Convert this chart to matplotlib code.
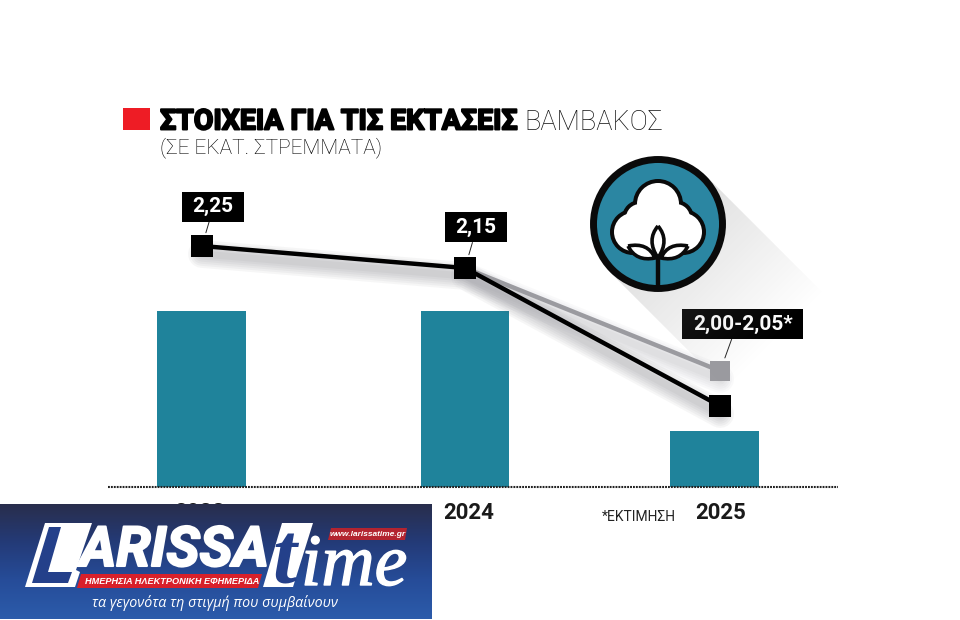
import numpy as np
import matplotlib
matplotlib.use('Agg')
import matplotlib.pyplot as plt
import matplotlib.patheffects as pe
from matplotlib.patches import Polygon, Circle, Rectangle, PathPatch
from matplotlib.path import Path
from matplotlib.transforms import ScaledTranslation

# values
anni = ['2023', '2024', '2025']
altezza_barre = [176, 176, 56]
linea_nera = [241, 219, 81]
linea_grigia = [219, 116]
etichette = ['2,25', '2,15', '2,00-2,05*']

x_barre = [0, 1, 1.95]
x_linea = [0, 1, 1.97]
x_anni = [-0.01, 1.015, 1.97]

TEAL = '#1f839b'
GRIGIO = '#9b9ba0'
NERO = '#0a0a0a'
BLU = '#24408a'

W, H = 960, 620
fig = plt.figure(figsize=(W / 100, H / 100), dpi=100, facecolor='white')


def scatola(x0, y0, w, h, mutation_size):
    # black label box, pads in pixels
    px, py = 10.5, 5.5
    return Path([(x0 - px, y0 - py), (x0 + w + px, y0 - py), (x0 + w + px, y0 + h + py),
                 (x0 - px, y0 + h + py), (x0 - px, y0 - py)], closed=True)


# main chart, baseline sits at y=487 px
ax = fig.add_axes([108 / W, 1 - 487 / H, 730 / W, 387 / H], zorder=2)
ax.set_xlim(-0.357, 2.418)
ax.set_ylim(0, 387)
ax.patch.set_alpha(0)
for lato in ['top', 'left', 'right']:
    ax.spines[lato].set_visible(False)
ax.spines['bottom'].set_linestyle((0, (0.9, 0.5)))
ax.spines['bottom'].set_linewidth(1.5)
ax.spines['bottom'].set_color('#222222')
ax.spines['bottom'].set_capstyle('butt')
ax.set_yticks([])
ax.set_xticks(x_anni, anni, fontfamily='Roboto', fontweight='bold', fontsize=16, color='#1a1a1a')
ax.tick_params(axis='x', length=0, pad=11)

ax.bar(x_barre, altezza_barre, width=0.338, color=TEAL, zorder=2)

# soft shadow under the lines
giu = ax.transData + ScaledTranslation(0, -8 / 100, fig.dpi_scale_trans)
for lw in range(20, 2, -3):
    ax.plot(x_linea, linea_nera, color='#555560', lw=lw, alpha=0.05, transform=giu,
            solid_capstyle='round', zorder=3)
    ax.plot(x_linea[1:], linea_grigia, color='#555560', lw=lw, alpha=0.03, transform=giu,
            solid_capstyle='round', zorder=3)

ax.plot(x_linea[1:], linea_grigia, color=GRIGIO, lw=3.2, marker='s', ms=15, mew=0, zorder=4)
ax.plot(x_linea, linea_nera, color='black', lw=3.2, marker='s', ms=15.5, mew=0, zorder=5)

# value boxes, offsets in points from the marker
punti = [(x_linea[0], linea_nera[0]), (x_linea[1], linea_nera[1]), (x_linea[2], linea_grigia[1])]
offset = [(7.9, 28.4), (8.0, 29.2), (16.2, 33.8)]
relpos = [(0.45, 0), (0.45, 0), (0.41, 0)]
for txt, xy, off, rp in zip(etichette, punti, offset, relpos):
    ax.annotate(txt, xy=xy, xytext=off, textcoords='offset points', ha='center', va='center',
                color='white', fontfamily='Roboto', fontweight='bold', fontsize=15,
                bbox=dict(boxstyle=scatola, fc='black', ec='none'),
                arrowprops=dict(arrowstyle='-', color='#222222', lw=0.7, relpos=rp,
                                shrinkA=0, shrinkB=10),
                zorder=6)

# everything else is drawn in picture pixels
deco = fig.add_axes([0, 0, 1, 1], zorder=3)
deco.set_xlim(0, W)
deco.set_ylim(H, 0)
deco.axis('off')
deco.patch.set_alpha(0)

# title
deco.add_patch(Rectangle((123, 108), 27, 22, fc='#ee1c25', ec='none'))
deco.text(160, 122, 'ΣΤΟΙΧΕΙΑ ΓΙΑ ΤΙΣ ΕΚΤΑΣΕΙΣ', fontfamily='Roboto', fontweight='bold', fontsize=20.5,
          va='center', color='black', path_effects=[pe.withStroke(linewidth=1.4, foreground='black')])
deco.text(524, 122, 'ΒΑΜΒΑΚΟΣ', fontfamily='Roboto', fontweight='light', fontsize=19.5, va='center', color='#111111')
deco.text(160, 148, '(ΣΕ ΕΚΑΤ. ΣΤΡΕΜΜΑΤΑ)', fontfamily='Roboto', fontweight='light', fontsize=15, va='center', color='black')
deco.text(602, 517, '*ΕΚΤΙΜΗΣΗ', fontfamily='Roboto', fontsize=10, va='center', color='#222222')

# long shadow of the icon
cx, cy, r = 658, 224, 68
ys, xs = np.mgrid[150:400, 590:850]
dist = ((xs - cx) + (ys - cy)) / np.sqrt(2)
sfuma = np.zeros(xs.shape + (4,))
sfuma[..., :3] = 0.55
sfuma[..., 3] = np.clip(0.28 * (1 - dist / 165), 0, 0.28)
ombra = deco.imshow(sfuma, extent=(590, 850, 400, 150), aspect='auto', zorder=0)
d = r / np.sqrt(2)
poli = Polygon([(cx + d, cy - d), (cx + d + 170, cy - d + 170), (cx - d + 170, cy + d + 170), (cx - d, cy + d)],
               transform=deco.transData, fc='none', ec='none')
deco.add_patch(poli)
ombra.set_clip_path(poli)

# cotton icon
deco.add_patch(Circle((cx, cy), r - 3.5, fc='#2b86a2', ec=NERO, lw=5, zorder=2))
bolle = [(658, 204, 21), (633, 232, 19), (683, 232, 19), (640, 218, 14), (676, 218, 14), (658, 232, 22)]
for bx, by, br in bolle:
    deco.add_patch(Circle((bx, by), br + 4, fc=NERO, ec='none', zorder=3))
for bx, by, br in bolle:
    deco.add_patch(Circle((bx, by), br, fc='white', ec='none', zorder=4))
deco.plot([658, 658], [255, 288], color=NERO, lw=3.2, solid_capstyle='butt', zorder=5)

curve = [Path.MOVETO, Path.CURVE3, Path.CURVE3, Path.CURVE3, Path.CURVE3]
petali = [[(658, 226), (670, 240), (658, 258), (646, 240), (658, 226)],
          [(628, 246), (648, 242), (655, 258), (636, 262), (628, 246)],
          [(688, 246), (668, 242), (661, 258), (680, 262), (688, 246)]]
for p in petali:
    deco.add_patch(PathPatch(Path(p, curve), fc='white', ec=NERO, lw=2.6, zorder=6))

# newspaper banner
grad = np.array([[0.16, 0.18, 0.30], [0.14, 0.23, 0.47], [0.15, 0.30, 0.60], [0.17, 0.36, 0.67]])
grad = np.stack([np.interp(np.linspace(0, 3, 115), range(4), grad[:, i]) for i in range(3)], axis=1)[:, None, :]
deco.imshow(grad, extent=(0, 432, 619, 504), aspect='auto', zorder=7)

deco.add_patch(Polygon([(45, 523), (92, 523), (76, 570), (80, 572), (75, 587), (25, 587)],
                       fc='white', ec='none', zorder=8))
deco.add_patch(Polygon([(49, 527), (61, 527), (48, 572), (72, 572), (68, 583), (32, 583)],
                       fc=BLU, ec='none', zorder=9))

deco.text(80, 566, 'ARISSA', fontfamily='Roboto', fontweight='bold', fontstyle='italic', fontsize=40,
          color='white', va='baseline', zorder=9, path_effects=[pe.withStroke(linewidth=1.5, foreground='white')])
deco.add_patch(Polygon([(81, 574), (262, 574), (258, 588), (77, 588)], fc='#d8202a', ec='none', zorder=9))
deco.text(85, 581, 'ΗΜΕΡΗΣΙΑ ΗΛΕΚΤΡΟΝΙΚΗ ΕΦΗΜΕΡΙΔΑ', fontfamily='Liberation Sans', fontweight='bold',
          fontstyle='italic', fontsize=6.6, color='white', va='center', zorder=10)
deco.add_patch(Polygon([(282, 523), (313, 523), (293, 587), (263, 587)], fc='white', ec='none', zorder=8))
deco.text(272, 584, 't', fontfamily='Liberation Serif', fontweight='bold', fontstyle='italic', fontsize=62,
          color=BLU, va='baseline', zorder=9)
deco.text(301, 585, 'ime', fontfamily='Liberation Serif', fontstyle='italic', fontsize=53, color='white',
          va='baseline', zorder=9, path_effects=[pe.withStroke(linewidth=1, foreground='white')])
deco.add_patch(Polygon([(331, 528), (407, 528), (405, 540), (328, 540)], fc='#b32430', ec='none', zorder=10))
deco.text(368, 534.5, 'www.larissatime.gr', fontfamily='Liberation Sans', fontweight='bold', fontstyle='italic',
          fontsize=6, color='white', ha='center', va='center', zorder=11)
deco.text(215, 603, 'τα γεγονότα τη στιγμή που συμβαίνουν', fontfamily='Open Sans', fontstyle='italic',
          fontsize=10.3, color='white', ha='center', va='center', zorder=9)

fig.savefig('out.png', dpi=100)
